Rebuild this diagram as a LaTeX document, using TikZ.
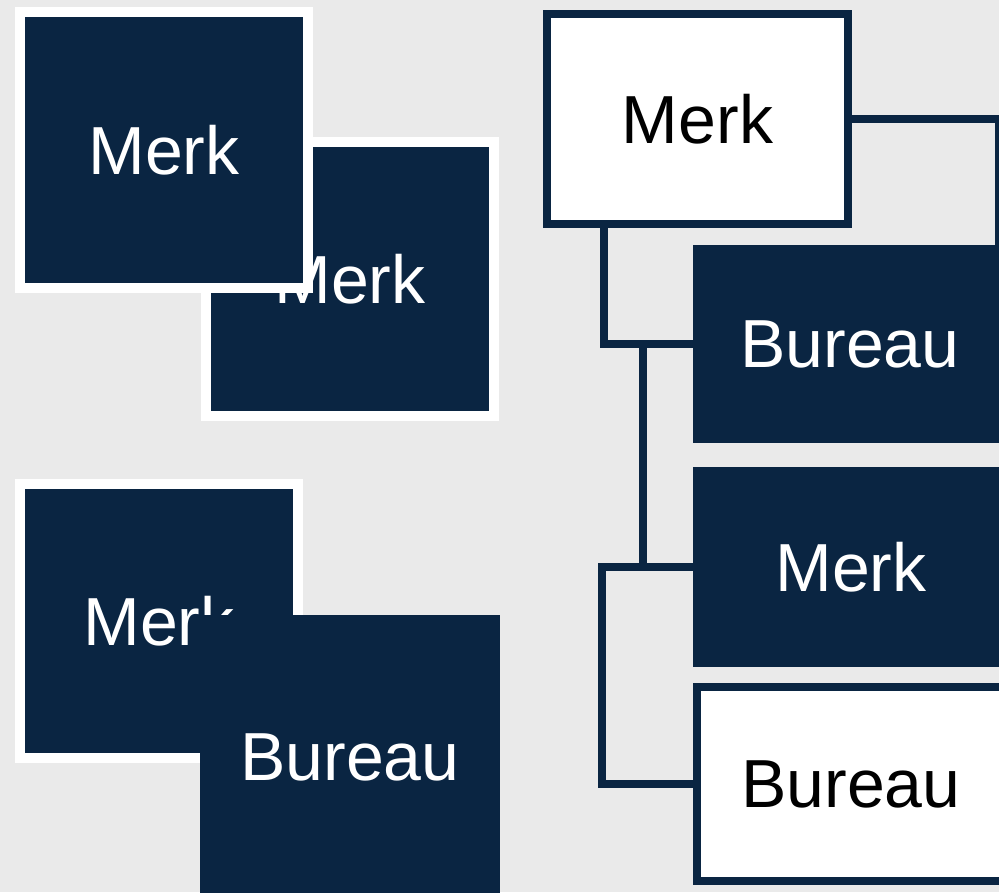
\documentclass[tikz,border=0pt]{standalone}
\usepackage{fontspec}
\setmainfont{Liberation Sans}
\definecolor{navy}{RGB}{10,37,66}
\definecolor{paper}{RGB}{234,234,234}
\tikzset{
  boxfont/.style={font=\fontsize{68}{80}\selectfont},
  darkbox/.style={rectangle, fill=navy, text=white, inner sep=0pt, boxfont},
  tile/.style={darkbox, draw=white, line width=10pt},
  whitebox/.style={rectangle, fill=white, draw=navy, line width=8pt, text=black, inner sep=0pt, boxfont},
  link/.style={draw=navy, line width=8.5pt}
}
\begin{document}
\begin{tikzpicture}[x=1pt, y=-1pt]
\useasboundingbox (0,0) rectangle (999,892);
\fill[paper] (0,0) rectangle (999,892);

% left, upper pair (the front one hides part of the back one)
\node[tile, minimum width=288pt, minimum height=274pt] (mb) at (350,279) {Merk};
\node[tile, minimum width=287.5pt, minimum height=275.5pt] (ma) at (164,150) {Merk};

% left, lower pair
\node[tile, minimum width=278.5pt, minimum height=274pt] (mc) at (159,621) {Merk};
\node[darkbox, minimum width=300pt, minimum height=284pt] (bd) at (350,757) {Bureau};

% right, tree
\node[whitebox, minimum width=301pt, minimum height=210pt] (me) at (697.5,119) {Merk};
\node[darkbox, minimum width=314pt, minimum height=198pt] (bf) at (850,344) {Bureau};
\node[darkbox, minimum width=316pt, minimum height=200pt] (mg) at (851,567) {Merk};
\node[whitebox, minimum width=308pt, minimum height=194pt] (bh) at (851,784) {Bureau};

\coordinate (j1) at ([xshift=-50pt]bf.west);
\coordinate (j2) at ([xshift=-91pt]mg.west);

\draw[link] (me.east) -| ([xshift=-8pt]bf.north east);
\draw[link] ([xshift=61pt]me.south west) |- (bf.west);
\draw[link] (j1) -- (j1 |- mg.west);
\draw[link] (mg.west) -- (j2) |- (bh.west);

\end{tikzpicture}
\end{document}
